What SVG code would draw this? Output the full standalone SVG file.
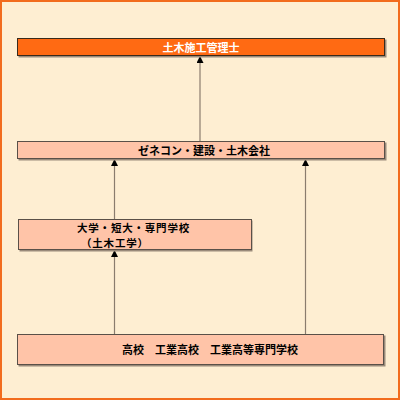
<svg xmlns="http://www.w3.org/2000/svg" width="400" height="400" viewBox="0 0 400 400">
<defs>
<marker id="ah" viewBox="0 0 7 7" refX="7" refY="3.5" markerWidth="7" markerHeight="7" markerUnits="userSpaceOnUse" orient="auto">
<path d="M0,0 L7,3.5 L0,7 Z" fill="#000"/>
</marker>
</defs>
<style>
.box{fill:#FFC4A8;stroke:#5a5048;stroke-width:1}
.shadow{fill:#9a8a7a}
.t{font-family:"Noto Sans CJK JP","Noto Sans CJK SC",sans-serif;font-size:11px;font-weight:bold;fill:#000}
.s{font-size:10.5px;letter-spacing:0.8px}
.conn{stroke:#8a7c6e;stroke-width:1.2;fill:none}
</style>
<rect x="1" y="1" width="398" height="398" fill="#FEEED2" stroke="#F26B1D" stroke-width="2"/>
<g id="connectors">
<line class="conn" x1="200" y1="141" x2="200" y2="56" marker-end="url(#ah)"/>
<line class="conn" x1="114.5" y1="219" x2="114.5" y2="159" marker-end="url(#ah)"/>
<line class="conn" x1="305.5" y1="334" x2="305.5" y2="159" marker-end="url(#ah)"/>
<line class="conn" x1="114.5" y1="334" x2="114.5" y2="250" marker-end="url(#ah)"/>
</g>
<g id="node-top">
<rect class="shadow" x="18.5" y="39.5" width="368" height="18"/>
<rect x="17.5" y="38.5" width="367" height="17" fill="#FF6A13" stroke="#3a2a1a" stroke-width="1"/>
<text class="t" x="201" y="51.5" text-anchor="middle" style="fill:#fff">土木施工管理士</text>
</g>
<g id="node-gen">
<rect class="shadow" x="18.5" y="142.5" width="368" height="18"/>
<rect class="box" x="17.5" y="141.5" width="367" height="17"/>
<text class="t" x="204" y="154.5" text-anchor="middle">ゼネコン・建設・土木会社</text>
</g>
<g id="node-univ">
<rect class="shadow" x="19.5" y="220.5" width="233" height="31"/>
<rect class="box" x="18.5" y="219.5" width="233" height="30"/>
<text class="t s"><tspan x="77" y="231.5">大学・短大・専門学校</tspan><tspan x="81" y="246.7">（土木工学）</tspan></text>
</g>
<g id="node-high">
<rect class="shadow" x="18.5" y="335.5" width="367" height="31"/>
<rect class="box" x="17.5" y="334.5" width="366" height="30"/>
<text class="t" x="210" y="354" text-anchor="middle">高校　工業高校　工業高等専門学校</text>
</g>
</svg>
